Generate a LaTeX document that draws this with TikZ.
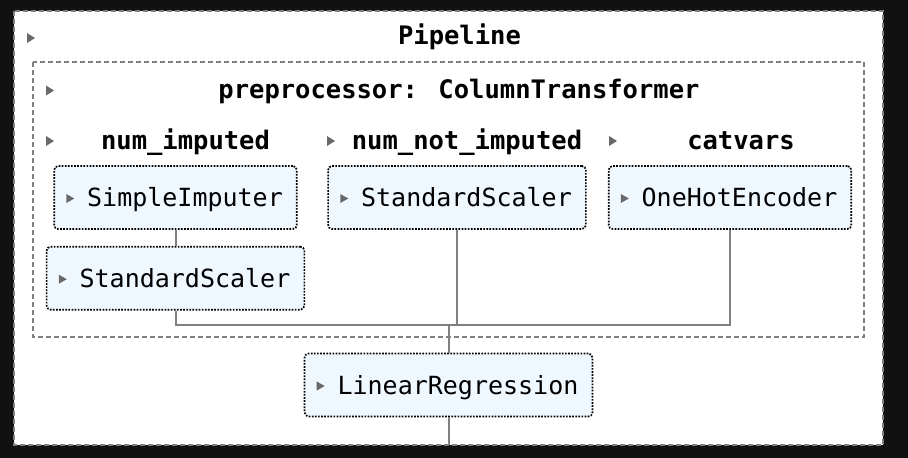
\documentclass[tikz,border=0pt]{standalone}
\usepackage{fontspec}
\setmainfont{DejaVu Sans Mono}
\usetikzlibrary{positioning}
\definecolor{pblack}{HTML}{111111}
\definecolor{pgray}{HTML}{808080}
\definecolor{pcaret}{HTML}{696969}
\definecolor{pfill}{HTML}{F0F8FF}

\begin{document}
\begin{tikzpicture}[x=1pt,y=-1pt,every node/.style={font=\fontsize{25}{30}\selectfont,inner sep=0pt},est/.style={draw=black,line width=1.7pt,dash pattern=on 1.7pt off 1.4pt,rounded corners=4pt,fill=pfill,minimum height=63pt,text height=18pt,text depth=0pt,inner xsep=14pt},head/.style={font=\fontsize{25.5}{30}\selectfont\bfseries,anchor=base},dashbox/.style={draw=pgray,line width=1.9pt,dash pattern=on 5pt off 3pt},wire/.style={draw=pgray,line width=2pt}]
\useasboundingbox (0,0) rectangle (908,458);
\fill[pblack] (0,0) rectangle (908,458);
\draw[dashbox,fill=white] (14,11) rectangle (883,445);
\draw[dashbox] (33,62) rectangle (864,337);
% headings
\node[head] (pipe) at (459.5,44.3) {Pipeline};
\node[head] (prep) at (459,98.5) {preprocessor: ColumnTransformer};
\node[head] (numimp) at (185.5,149) {num\_imputed};
\node[head] (numnot) at (467,149) {num\_not\_imputed};
\node[head] (cat) at (741,149) {catvars};
% steps
\node[est] (simp) at (175.5,197.5) {\hspace*{19pt}SimpleImputer};
\node[est,below=16pt of simp] (scl1) {\hspace*{19pt}StandardScaler};
\node[est] (scl2) at (457,197.5) {\hspace*{19pt}StandardScaler};
\node[est] (ohe) at (730,197.5) {\hspace*{19pt}OneHotEncoder};
\node[est] (lr) at (448.5,385) {\hspace*{19pt}LinearRegression};
% toggles
\foreach \cx/\cy in {31/38,50/90.5,50/141,331/141,613/141}
  \fill[pcaret] (\cx-4,\cy-5) -- (\cx-4,\cy+5) -- (\cx+4,\cy) -- cycle;
\foreach \n in {simp,scl1,scl2,ohe,lr}
  \fill[pcaret] ([shift={(13,-3.5)}]\n.west) -- ++(0,9) -- ++(8,-4.5) -- cycle;
% wires
\coordinate (merge) at (448.5,325);
\coordinate (tail) at (448.5,445);
\draw[wire] (simp) -- (scl1);
\draw[wire] (scl1.south) |- (merge) -| (ohe.south);
\draw[wire] (scl2.south) -- (scl2.south |- merge);
\draw[wire] (merge) -- (lr.north);
\draw[wire] (lr.south) -- (tail);
\end{tikzpicture}
\end{document}
